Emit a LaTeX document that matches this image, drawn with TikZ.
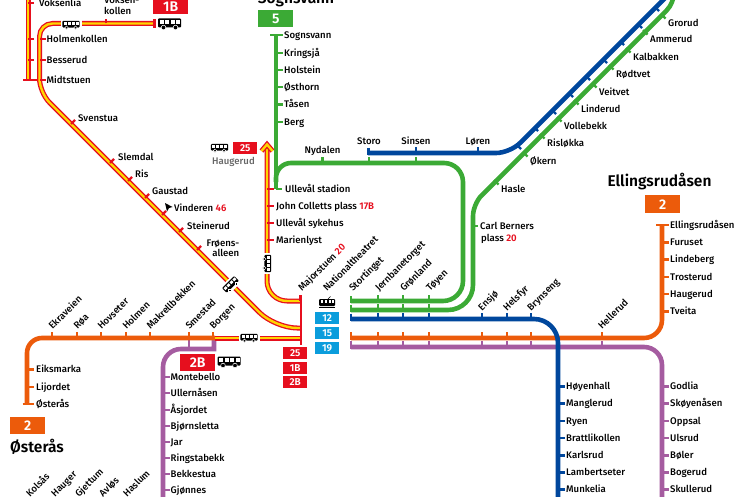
\documentclass[tikz,border=0pt]{standalone}
\usepackage{fontspec}
\setmainfont{Fira Sans Medium}[BoldFont={Fira Sans SemiBold}]
\definecolor{rred}{HTML}{E60F1E}
\definecolor{ryellow}{HTML}{FFD500}
\definecolor{rgreen}{HTML}{3BAA35}
\definecolor{rblue}{HTML}{00479D}
\definecolor{rorange}{HTML}{EC5B0B}
\definecolor{rpurple}{HTML}{A55CA0}
\definecolor{rsky}{HTML}{0B9DDC}
\newcommand{\rednum}[1]{{\color{rred}\bfseries #1}}
\tikzset{
  stn/.style={inner sep=0pt, anchor=base west, yshift=-3.3pt, font=\fontsize{9.6}{10.5}\selectfont},
  rotstn/.style={inner sep=0pt, anchor=base west, rotate=45, font=\fontsize{9.6}{10.5}\selectfont},
  heading/.style={inner sep=0pt, font=\fontsize{15.5}{17}\selectfont\bfseries},
  linebox/.style={rectangle, fill=#1, text=white, inner sep=0pt, font=\fontsize{14}{14}\selectfont\bfseries},
  smallbox/.style={rectangle, fill=#1, text=white, inner sep=0pt, minimum width=24pt, minimum height=12pt, font=\fontsize{10}{10}\selectfont\bfseries},
  metro/.style={line width=4.6pt, draw=#1},
  tick/.style={line width=2.3pt, draw=#1},
  tramline/.style={draw=rred, line width=1.3pt, double=ryellow, double distance=2.4pt},
  busicon/.pic={
    \fill[white] (-14,-8) rectangle (14,7);
    \fill[rounded corners=1pt] (-11.5,-5.5) rectangle (11.5,3.5);
    \foreach \wx in {-10,-4.5,1,6.5}{
      \fill[white] (\wx,-4) rectangle ++(4,3.7);
    }
    \fill (-6,3.5) circle (2.3);
    \fill (6,3.5) circle (2.3);
    \draw[white, line width=0.5pt] (-6,3.5) circle (2.3);
    \draw[white, line width=0.5pt] (6,3.5) circle (2.3);
  },
  tramicon/.pic={
    \fill[rounded corners=1pt] (-8,-4) rectangle (8,3);
    \foreach \wx in {-6.5,-2.5,1.5,4.8}{
      \fill[white] (\wx,-2.7) rectangle ++(2.5,2.7);
    }
    \draw[line width=0.7pt] (-8,4.4) -- (8,4.4);
    \draw[line width=0.6pt] (1,-4) -- (3.5,-6.5);
  }
}
\begin{document}
\begin{tikzpicture}[x=1pt, y=-1pt]
  \useasboundingbox (0,0) rectangle (746,497);

  % purple
  \draw[metro=rpurple] (351,347) [rounded corners=18] -- (662,347) -- (662,505);
  \draw[metro=rpurple] (214,338) -- (214,349) [rounded corners=18] -- (163,349) -- (163,505);
  \draw[tick=rpurple] (189,338) -- (189,349);
  \foreach \ypos/\stname [count=\i] in {377/Montebello,393/Ullernåsen,410/Åsjordet,426/Bjørnsletta,442/Jar,458/Ringstabekk,474/Bekkestua,490/Gjønnes}{
    \draw[tick=rpurple] (163,\ypos) -- ++(6.5,0);
    \node[stn] (kols\i) at (170.5,\ypos) {\stname};
  }
  \foreach \ypos/\stname [count=\i] in {386.5/Godlia,403.5/Skøyenåsen,421/Oppsal,438/Ulsrud,455.5/Bøler,472.5/Bogerud,489.5/Skullerud}{
    \draw[tick=rpurple] (662,\ypos) -- ++(6.5,0);
    \node[stn] (bergk\i) at (670,\ypos) {\stname};
  }
  \foreach \xpos/\stname [count=\i] in {30/Kolsås,55/Hauger,79/Gjettum,103/Avløs,127/Haslum}{
    \node[rotstn] (west\i) at (\xpos,497.5) {\stname};
  }

  % orange
  \draw[metro=rorange, rounded corners=18] (351,338) -- (662,338) -- (662,225);
  \draw[metro=rorange, rounded corners=15] (215,338) -- (27,338) -- (27,404);
  \draw[tick=rorange] (656,225) -- (668,225);
  \draw[tick=rorange] (22.5,404) -- (33,404);
  \foreach \xpos/\stname [count=\i] in {52/Ekraveien,77/Røa,101/Hovseter,126/Holmen,150/Makrellbekken,189/Smestad,213/Borgen}{
    \draw[tick=rorange] (\xpos,338) -- ++(0,-6);
    \node[rotstn] (ost\i) at (\xpos+0.5,330) {\stname};
  }
  \foreach \ypos/\stname [count=\i] in {369.5/Eiksmarka,387/Lijordet,404/Østerås}{
    \draw[tick=rorange] (27,\ypos) -- ++(7,0);
    \node[stn] (oster\i) at (36,\ypos) {\stname};
  }
  \foreach \ypos/\stname [count=\i] in {225/Ellingsrudåsen,242.5/Furuset,259.5/Lindeberg,277/Trosterud,294/Haugerud,311.5/Tveita}{
    \draw[tick=rorange] (662,\ypos) -- ++(6.5,0);
    \node[stn] (ell\i) at (670,\ypos) {\stname};
  }
  \foreach \xpos in {378,403,429,482,507,531,602}{
    \draw[tick=rorange] (\xpos,338) -- ++(0,-6);
    \draw[tick=rpurple] (\xpos,347) -- ++(0,-6);
  }
  \draw[tick=rorange] (351,339.5) -- ++(0,-8);
  \draw[tick=rpurple] (351,348.5) -- ++(0,-8);

  % green
  \draw[metro=rgreen] (276,35) -- (276,189);
  \draw[tick=rgreen] (270,35) -- (282,35);
  \draw[tick=rgreen] (276,189) -- (282,189);
  \draw[metro=rgreen] (276,182) [rounded corners=15] -- (276,163) [rounded corners=19] -- (463,163) [rounded corners=20] -- (463,301) -- (351,301);
  \draw[metro=rgreen] (674,-12) [rounded corners=10] -- (674,3) [rounded corners=12] -- (473,204) [rounded corners=25] -- (473,310) -- (351,310);
  \foreach \ypos/\stname [count=\i] in {35/Sognsvann,53/Kringsjå,70/Holstein,87/Østhorn,104.5/Tåsen,122/Berg}{
    \draw[tick=rgreen] (276,\ypos) -- ++(6.5,0);
    \node[stn] (sog\i) at (284,\ypos) {\stname};
  }
  \foreach \xpos in {322.5,369,416}{
    \draw[tick=rgreen] (\xpos,163) -- ++(0,-6);
  }
  \node[stn, anchor=base] (nydalen) at (322.5,150) {Nydalen};
  \foreach \sx/\sy/\stname [count=\i] in {526/155/Økern,543/137/Risløkka,560/120/Vollebekk,577/103/Linderud,595/86/Veitvet,612/68/Rødtvet,629/51/Kalbakken,646/33/Ammerud,664/17/Grorud}{
    \draw[tick=rgreen] (\sx-3,\sy-3) -- (\sx+1.5,\sy+1.5);
    \node[stn] (gro\i) at (\sx+4,\sy+6.5) {\stname};
  }
  \draw[tick=rgreen] (494,180) -- (498.5,184.5);
  \node[stn] (hasle) at (501,189) {Hasle};
  \draw[tick=rgreen] (473,226) -- (477.5,226);
  \node[stn] (carl) at (480,226) {Carl Berners};
  \node[stn] (plass) at (481,238) {plass \rednum{20}};
  \foreach \ypos in {296,305}{
    \draw[tick=rgreen] (351,\ypos) -- ++(0,7);
  }
  \foreach \xpos in {378,403,429}{
    \draw[tick=rgreen] (\xpos,301) -- ++(0,-6);
    \draw[tick=rgreen] (\xpos,310) -- ++(0,-6);
  }

  % blue
  \draw[metro=rblue] (351,319) [rounded corners=24] -- (558,319) -- (558,505);
  \draw[metro=rblue] (368,153) [rounded corners=14] -- (510,153) -- (672,-9);
  \draw[tick=rblue] (351,313.5) -- ++(0,7.5);
  \draw[tick=rblue] (368.5,148) -- ++(0,7);
  \foreach \xpos in {378,403,429,482,507,531}{
    \draw[tick=rblue] (\xpos,319) -- ++(0,-6);
  }
  \foreach \xpos/\stname [count=\i] in {416/Sinsen,478/Løren}{
    \draw[tick=rblue] (\xpos,153) -- ++(0,-6);
    \node[stn, anchor=base] (blu\i) at (\xpos,141.5) {\stname};
  }
  \node[stn, anchor=base] (storo) at (369,141.5) {Storo};
  \foreach \sx/\sy in {520/148,537/130,555/113,572/96,589/79,606/62,623/44,641/27,658/10}{
    \draw[tick=rblue] (\sx-3,\sy-3) -- (\sx+1,\sy+1);
  }
  \foreach \ypos/\stname [count=\i] in {386.5/Høyenhall,403.5/Manglerud,421/Ryen,438/Brattlikollen,455.5/Karlsrud,472.5/Lambertseter,489.5/Munkelia}{
    \draw[tick=rblue] (558,\ypos) -- ++(6.5,0);
    \node[stn] (ryen\i) at (566,\ypos) {\stname};
  }

  % labels over the common section
  \node[rotstn] (major) at (302,292) {Majorstuen \rednum{20}};
  \node[rotstn] (nat) at (327,292) {Nationaltheatret};
  \foreach \xpos/\stname [count=\i] in {353/Stortinget,379/Jernbanetorget,404/Grønland,430/Tøyen}{
    \node[rotstn] (fell\i) at (\xpos,292) {\stname};
  }
  \foreach \xpos/\stname [count=\i] in {482/Ensjø,507/Helsfyr,531/Brynseng}{
    \node[rotstn] (lamb\i) at (\xpos,311.5) {\stname};
  }
  \node[rotstn] (hellerud) at (602,330) {Hellerud};

  % red lines
  \draw[tramline] (28,-5) -- (28,80);
  \draw[tramline] (154,23.5) [rounded corners=13] -- (39.5,23.5) [rounded corners=14] -- (39.5,92.5) [rounded corners=22] -- (275,328) -- (300,328);
  \draw[tramline] (215,338) -- (300,338);
  \draw[tramline, rounded corners=20] (267,146) -- (267,301) -- (300,301);
  \draw[tramline, miter limit=4] (261.5,151) -- (267,144.5) -- (272.5,151);
  \draw[line width=2.5pt, rred] (301,295) -- (301,345);
  \draw[line width=2.5pt, rred] (154.5,19) -- (154.5,28.5);
  \draw[line width=2.5pt, rred] (23,80) -- (37,80);
  \foreach \ypos in {3,39,60}{
    \draw[tick=rred] (28,\ypos) -- ++(6,0);
  }
  \node[stn] (voksenlia) at (39,3) {Voksenlia};
  \foreach \ypos/\stname [count=\i] in {39/Holmenkollen,60/Besserud,80/Midtstuen}{
    \draw[tick=rred] (39.5,\ypos) -- ++(6,0);
    \node[stn] (holm\i) at (46.5,\ypos) {\stname};
  }
  \draw[tick=rred] (106,23.5) -- ++(0,-4.5);
  \node[stn, align=left] (voksenkollen) at (104,11.2) {Voksen-\\kollen};
  \foreach \sx/\stname/\dx/\dy [count=\i] in {71/Svenstua/7/-6,110/Slemdal/8/-6,128/Ris/7/-7,145/Gaustad/7/-7}{
    \draw[tick=rred] (\sx,\sx+53) -- (\sx+4,\sx+49);
    \node[stn] (dia\i) at (\sx+\dx,\sx+53+\dy) {\stname};
  }
  \draw[tick=rred] (162,215) -- (166,211);
  \fill (165,203) -- (172.5,207) -- (169,208) -- (167,211.5) -- cycle;
  \node[stn] (vinderen) at (174,208) {Vinderen \rednum{46}};
  \draw[tick=rred] (179,232) -- (183,228);
  \node[stn] (steinerud) at (187,226) {Steinerud};
  \draw[tick=rred] (197,250) -- (201,246);
  \node[stn, align=right, anchor=base east] (froens) at (239.5,253.2) {Frøens-\\alleen};
  \foreach \ypos/\stname [count=\i] in {206/John Colletts plass \rednum{17B},223/Ullevål sykehus,240/Marienlyst}{
    \draw[tick=rred] (267,\ypos) -- ++(7,0);
    \node[stn] (coll\i) at (276,\ypos) {\stname};
  }
  \draw[tick=rred] (267,189) -- ++(7,0);
  \node[stn] (stadion) at (285,189) {Ullevål stadion};
  \draw[tick=rred] (300.5,301) -- ++(0,-6);

  % line numbers and ends
  \node[linebox=rred, minimum width=35pt, minimum height=15pt, anchor=north west] (box1B) at (153,-1) {1B};
  \node[linebox=rgreen, minimum width=35pt, minimum height=17pt, anchor=north west] (box5) at (258,10) {5};
  \node[linebox=rorange, minimum width=35pt, minimum height=18pt, anchor=north west] (box2e) at (645,195) {2};
  \node[linebox=rorange, minimum width=35pt, minimum height=17pt, anchor=north west] (box2o) at (10,417) {2};
  \node[linebox=rred, minimum width=35pt, minimum height=17pt, anchor=north west] (box2B) at (180,354) {2B};
  \node[smallbox=rred, anchor=north west] (box25h) at (233,142) {25};
  \foreach \ypos/\boxtext [count=\i] in {347/25,361.5/1B,376/2B}{
    \node[smallbox=rred, anchor=north west] (red\i) at (283,\ypos) {\boxtext};
  }
  \foreach \ypos/\boxtext [count=\i] in {312/12,327/15,341.5/19}{
    \node[smallbox=rsky, anchor=north west] (sky\i) at (315,\ypos) {\boxtext};
  }
  \node[heading, anchor=base] (hsog) at (296,3.5) {Sognsvann};
  \node[heading, anchor=base] (hell) at (659.5,186) {Ellingsrudåsen};
  \node[heading, anchor=base west] (host) at (10,452) {Østerås};
  \node[stn, text=black!60] (hau) at (212,161) {Haugerud};

  % bus and tram signs
  \pic[scale=1] at (169.5,24) {busicon};
  \pic[scale=1] at (229,362) {busicon};
  \pic[scale=0.75] at (71,25) {busicon};
  \pic[scale=0.75] at (249,338) {busicon};
  \pic[scale=0.75] at (219.5,148) {busicon};
  \pic[scale=0.75, rotate=45] at (231,285) {busicon};
  \pic[scale=0.75, rotate=-90] at (267,263.5) {busicon};
  \pic at (327,303) {tramicon};
\end{tikzpicture}
\end{document}
